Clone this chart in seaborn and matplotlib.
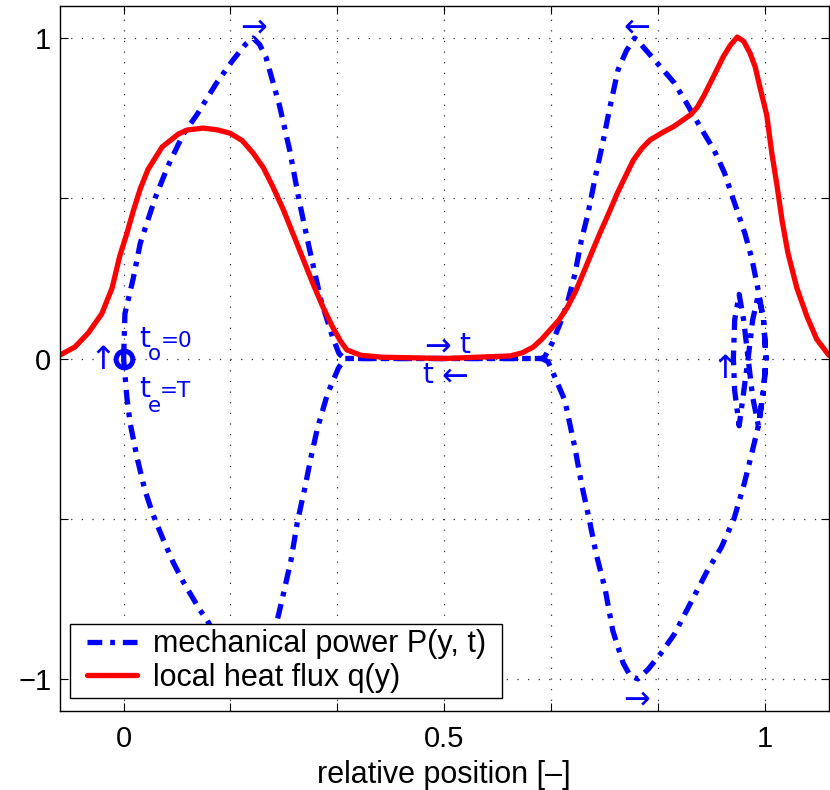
import matplotlib
matplotlib.use("Agg")
import matplotlib.pyplot as plt
import seaborn as sns
from matplotlib.legend_handler import HandlerLine2D

# mechanical power P(y, t) -- closed loop, listed in time order
blue_x = [0.0, 0.002, 0.015, 0.026, 0.049, 0.069, 0.093, 0.114, 0.145, 0.17,
          0.19, 0.202, 0.212, 0.222, 0.243, 0.259, 0.274, 0.29, 0.308, 0.326,
          0.336, 0.345, 0.652, 0.662, 0.673, 0.688, 0.704, 0.714, 0.727, 0.737,
          0.751, 0.763, 0.779, 0.79, 0.802, 0.818, 0.838, 0.859, 0.885, 0.911,
          0.932, 0.952, 0.968, 0.978, 0.99,
          # wiggle near the end
          0.998, 1.002, 0.998, 0.99, 0.981, 0.974, 0.966, 0.96, 0.953, 0.951,
          0.953, 0.96, 0.967, 0.974, 0.981, 0.99, 0.998, 1.002, 0.998, 0.99,
          # back up and left
          0.98, 0.969, 0.952, 0.937, 0.921, 0.90, 0.88, 0.859, 0.833, 0.807,
          0.797, 0.784, 0.771, 0.758, 0.748, 0.735, 0.724, 0.714, 0.704, 0.693,
          0.683, 0.668, 0.657, 0.652, 0.345,
          # lower left lobe
          0.335, 0.318, 0.302, 0.292, 0.282, 0.271, 0.261, 0.248, 0.238, 0.228,
          0.215, 0.205, 0.19, 0.16, 0.130, 0.119, 0.093, 0.077, 0.062, 0.046,
          0.033, 0.021, 0.010, 0.005, 0.0]
blue_y = [0.0, 0.14, 0.25, 0.36, 0.50, 0.60, 0.70, 0.76, 0.86, 0.93,
          0.98, 1.0, 0.98, 0.94, 0.79, 0.65, 0.49, 0.34, 0.18, 0.066,
          0.015, 0.0, 0.0, -0.01, -0.06, -0.13, -0.28, -0.39, -0.51, -0.61,
          -0.72, -0.85, -0.95, -0.99, -1.0, -0.97, -0.92, -0.86, -0.76, -0.66,
          -0.59, -0.50, -0.39, -0.31, -0.21,
          -0.1, 0.0, 0.12, 0.2, 0.12, 0.0, -0.12, -0.21, -0.1, 0.0,
          0.12, 0.2, 0.12, 0.0, -0.12, -0.21, -0.1, 0.0, 0.12, 0.21,
          0.31, 0.39, 0.49, 0.58, 0.65, 0.72, 0.79, 0.86, 0.92, 0.98,
          1.0, 0.96, 0.90, 0.78, 0.68, 0.56, 0.45, 0.37, 0.265, 0.18,
          0.12, 0.047, 0.006, 0.0, 0.0,
          -0.03, -0.11, -0.22, -0.31, -0.41, -0.51, -0.63, -0.745, -0.83, -0.91,
          -0.97, -1.0, -0.98, -0.92, -0.816, -0.785, -0.697, -0.635, -0.566, -0.488,
          -0.41, -0.31, -0.20, -0.12, 0.0]

# local heat flux q(y)
red_x = [-0.099, -0.076, -0.055, -0.034, -0.018, -0.006, 0.005, 0.015, 0.026, 0.038,
         0.060, 0.085, 0.099, 0.124, 0.145, 0.166, 0.185, 0.202, 0.218, 0.233,
         0.249, 0.264, 0.280, 0.295, 0.311, 0.326, 0.338, 0.348, 0.37, 0.404,
         0.5, 0.603, 0.622, 0.639, 0.652, 0.665, 0.679, 0.692, 0.705, 0.717,
         0.730, 0.743, 0.757, 0.770, 0.783, 0.795, 0.808, 0.821, 0.842, 0.858,
         0.873, 0.885, 0.895, 0.905, 0.915, 0.925, 0.935, 0.946, 0.957, 0.967,
         0.977, 0.985, 0.992, 1.003, 1.011, 1.019, 1.027, 1.036, 1.05, 1.066,
         1.081, 1.1]
red_y = [0.011, 0.036, 0.08, 0.14, 0.22, 0.32, 0.39, 0.46, 0.53, 0.59,
         0.66, 0.70, 0.713, 0.719, 0.714, 0.703, 0.68, 0.641, 0.595, 0.535,
         0.465, 0.39, 0.31, 0.235, 0.16, 0.098, 0.055, 0.027, 0.01, 0.004,
         0.0, 0.008, 0.018, 0.036, 0.06, 0.089, 0.12, 0.16, 0.21, 0.267,
         0.33, 0.392, 0.455, 0.516, 0.57, 0.619, 0.655, 0.682, 0.707, 0.724,
         0.745, 0.762, 0.785, 0.82, 0.86, 0.90, 0.941, 0.977, 1.003, 0.99,
         0.953, 0.91, 0.85, 0.76, 0.64, 0.54, 0.43, 0.33, 0.22, 0.13,
         0.06, 0.01]

x_ticks = [0, 1/6, 2/6, 3/6, 4/6, 5/6, 1]
x_ticklabels = ['0', '', '', '0.5', '', '', '1']
y_ticks = [-1, -0.5, 0, 0.5, 1]
y_ticklabels = ['\u22121', '', '0', '', '1']

sns.set_style("ticks")
plt.rcParams['font.family'] = ['Liberation Sans', 'DejaVu Sans']
plt.rcParams['text.color'] = 'black'
plt.rcParams['axes.labelcolor'] = 'black'

fig = plt.figure(figsize=(8.3, 7.9), dpi=100)
ax = fig.add_axes([0.0717, 0.1, 0.927, 0.8924])

sns.lineplot(x=blue_x, y=blue_y, sort=False, estimator=None, color='blue',
             lw=3.8, label='mechanical power P(y, t)', ax=ax)
ax.lines[-1].set_dashes((2.8, 1.5, 0.9, 1.5))
ax.lines[-1].set_dash_capstyle('butt')
sns.lineplot(x=red_x, y=red_y, sort=False, estimator=None, color='red',
             lw=3.8, label='local heat flux q(y)', ax=ax)

# start marker
ax.plot([0], [0], marker='o', ms=12, mfc='none', mec='blue', mew=3.6)

# annotations (arrows and time labels)
blue = 'blue'
arr = dict(color=blue, fontsize=23, family='DejaVu Sans', ha='center', va='center')
tt = dict(color=blue, fontsize=20, family='DejaVu Sans', ha='left', va='baseline')
txt = dict(color=blue, fontsize=15.5, family='DejaVu Sans', ha='left', va='baseline')
ax.text(0.203, 1.03, '\u2192', **arr)
ax.text(0.80, 1.03, '\u2190', **arr)
ax.text(0.80, -1.066, '\u2192', **arr)
ax.text(0.489, 0.036, '\u2192', **arr)
ax.text(0.523, 0.017, 't', **tt)
ax.text(0.465, -0.076, 't', **tt)
ax.text(0.517, -0.058, '\u2190', **arr)
ax.text(-0.033, -0.005, '\u2191', **arr)
ax.text(0.937, -0.033, '\u2191', **arr)
ax.text(0.024, 0.036, 't', **tt)
ax.text(0.038, -0.005, 'o', **txt)
ax.text(0.058, 0.036, '=0', **txt)
ax.text(0.024, -0.12, 't', **tt)
ax.text(0.038, -0.167, 'e', **txt)
ax.text(0.056, -0.12, '=T', **txt)

ax.set_xlim(-0.1, 1.1)
ax.set_ylim(-1.1, 1.1)
ax.set_xticks(x_ticks)
ax.set_xticklabels(x_ticklabels)
ax.set_yticks(y_ticks)
ax.set_yticklabels(y_ticklabels)
ax.tick_params(direction='in', length=6, width=0.8, labelsize=21,
               top=True, right=True, colors='black')
ax.tick_params(axis='x', pad=10)
ax.tick_params(axis='y', pad=6)
ax.grid(True, color='0.2', linestyle=(0, (1, 7.5)), linewidth=0.9)
for s in ax.spines.values():
    s.set_color('black')
    s.set_linewidth(1.0)

ax.set_xlabel('relative position [\u2013]', fontsize=22, labelpad=5)
ax.set_ylabel('')

leg = ax.legend(loc='lower left', bbox_to_anchor=(0.01365, 0.0184, 0.5614, 0.1),
                mode='expand', borderaxespad=0,
                fontsize=22, handlelength=2.0, handletextpad=0.55,
                labelspacing=0.1, borderpad=0.18, fancybox=False,
                framealpha=1, edgecolor='black',
                handler_map={matplotlib.lines.Line2D: HandlerLine2D(xpad=0.37)})
leg.get_frame().set_linewidth(1.0)

fig.savefig('out.png', dpi=100)
